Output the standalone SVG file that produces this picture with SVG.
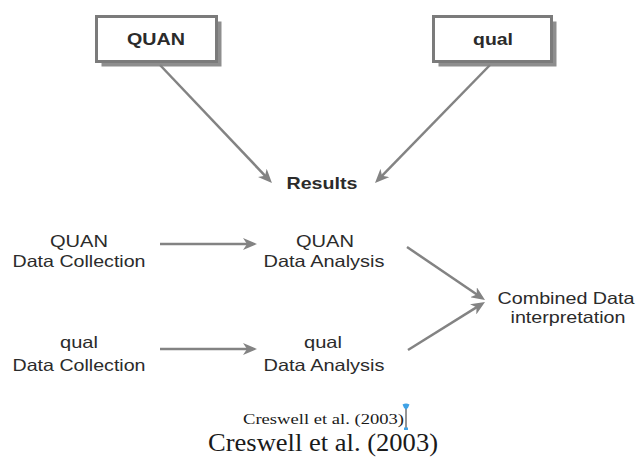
<svg xmlns="http://www.w3.org/2000/svg" width="636" height="457" viewBox="0 0 636 457">
  <style>
    .lbl { font-family: "Liberation Sans", Arial, sans-serif; font-size: 16.5px; fill: #2b2b2b; text-anchor: middle; }
    .bold { font-weight: bold; }
    .box { fill: #ffffff; stroke: #7b7b7b; stroke-width: 3; }
    .shadow { fill: #8e8e8e; }
    .conn { stroke: #838383; stroke-width: 2.5; fill: none; marker-end: url(#head); }
    .cite { font-family: "Liberation Serif", "Times New Roman", serif; fill: #1a1a1a; text-anchor: middle; }
  </style>
  <defs>
    <marker id="head" markerUnits="userSpaceOnUse" markerWidth="15" markerHeight="12" refX="10" refY="6" orient="auto">
      <path d="M0,0 L14,6 L0,12 L4,6 Z" fill="#838383"/>
    </marker>
  </defs>
  <rect width="636" height="457" fill="#ffffff"/>

  <!-- top boxes -->
  <g id="quan-box">
    <rect class="shadow" x="101.5" y="21.5" width="120" height="45"/>
    <rect class="box" x="96.5" y="16.5" width="120" height="45"/>
    <text class="lbl bold" x="156" y="45" textLength="58" lengthAdjust="spacingAndGlyphs">QUAN</text>
  </g>
  <g id="qual-box">
    <rect class="shadow" x="438.5" y="21.5" width="118" height="45"/>
    <rect class="box" x="433.5" y="16.5" width="118" height="45"/>
    <text class="lbl bold" x="493" y="45" textLength="40" lengthAdjust="spacingAndGlyphs">qual</text>
  </g>

  <g id="results">
    <text class="lbl bold" x="322" y="189" textLength="71" lengthAdjust="spacingAndGlyphs">Results</text>
  </g>

  <g id="quan-collection">
    <text class="lbl" x="79" y="247" textLength="58" lengthAdjust="spacingAndGlyphs">QUAN</text>
    <text class="lbl" x="79" y="267" textLength="133" lengthAdjust="spacingAndGlyphs">Data Collection</text>
  </g>
  <g id="quan-analysis">
    <text class="lbl" x="325" y="247" textLength="58" lengthAdjust="spacingAndGlyphs">QUAN</text>
    <text class="lbl" x="324" y="267" textLength="121" lengthAdjust="spacingAndGlyphs">Data Analysis</text>
  </g>
  <g id="qual-collection">
    <text class="lbl" x="79" y="348" textLength="38" lengthAdjust="spacingAndGlyphs">qual</text>
    <text class="lbl" x="79" y="371" textLength="133" lengthAdjust="spacingAndGlyphs">Data Collection</text>
  </g>
  <g id="qual-analysis">
    <text class="lbl" x="323" y="348" textLength="38" lengthAdjust="spacingAndGlyphs">qual</text>
    <text class="lbl" x="324" y="371" textLength="121" lengthAdjust="spacingAndGlyphs">Data Analysis</text>
  </g>
  <g id="combined">
    <text class="lbl" x="566" y="304" textLength="137" lengthAdjust="spacingAndGlyphs">Combined Data</text>
    <text class="lbl" x="568" y="323" textLength="115" lengthAdjust="spacingAndGlyphs">interpretation</text>
  </g>

  <!-- connectors -->
  <g id="connectors">
    <line class="conn" x1="160" y1="65" x2="269.2" y2="180.1"/>
    <line class="conn" x1="490" y1="65" x2="377.8" y2="180.1"/>
    <line class="conn" x1="160" y1="244" x2="253" y2="244"/>
    <line class="conn" x1="160" y1="349" x2="253" y2="349" stroke-width="3.5"/>
    <line class="conn" x1="407" y1="247" x2="481.7" y2="297.8"/>
    <line class="conn" x1="408" y1="350" x2="481.6" y2="304.1"/>
  </g>

  <!-- citation -->
  <g id="citation">
    <text class="cite" x="323.5" y="424" font-size="15" textLength="161" lengthAdjust="spacingAndGlyphs">Creswell et al. (2003)</text>
    <line x1="406" y1="408" x2="406" y2="428" stroke="#2a2a2a" stroke-width="1"/>
    <path d="M402.5,404.5 Q406,402.5 409.5,404.5 Q408.5,408 406,409.5 Q403.5,408 402.5,404.5 Z" fill="#3fa2e6"/>
    <rect x="404" y="427.5" width="4" height="2.5" fill="#3fa2e6"/>
    <text class="cite" x="323" y="451" font-size="25" textLength="230" lengthAdjust="spacingAndGlyphs" fill="#000000">Creswell et al. (2003)</text>
  </g>
</svg>
